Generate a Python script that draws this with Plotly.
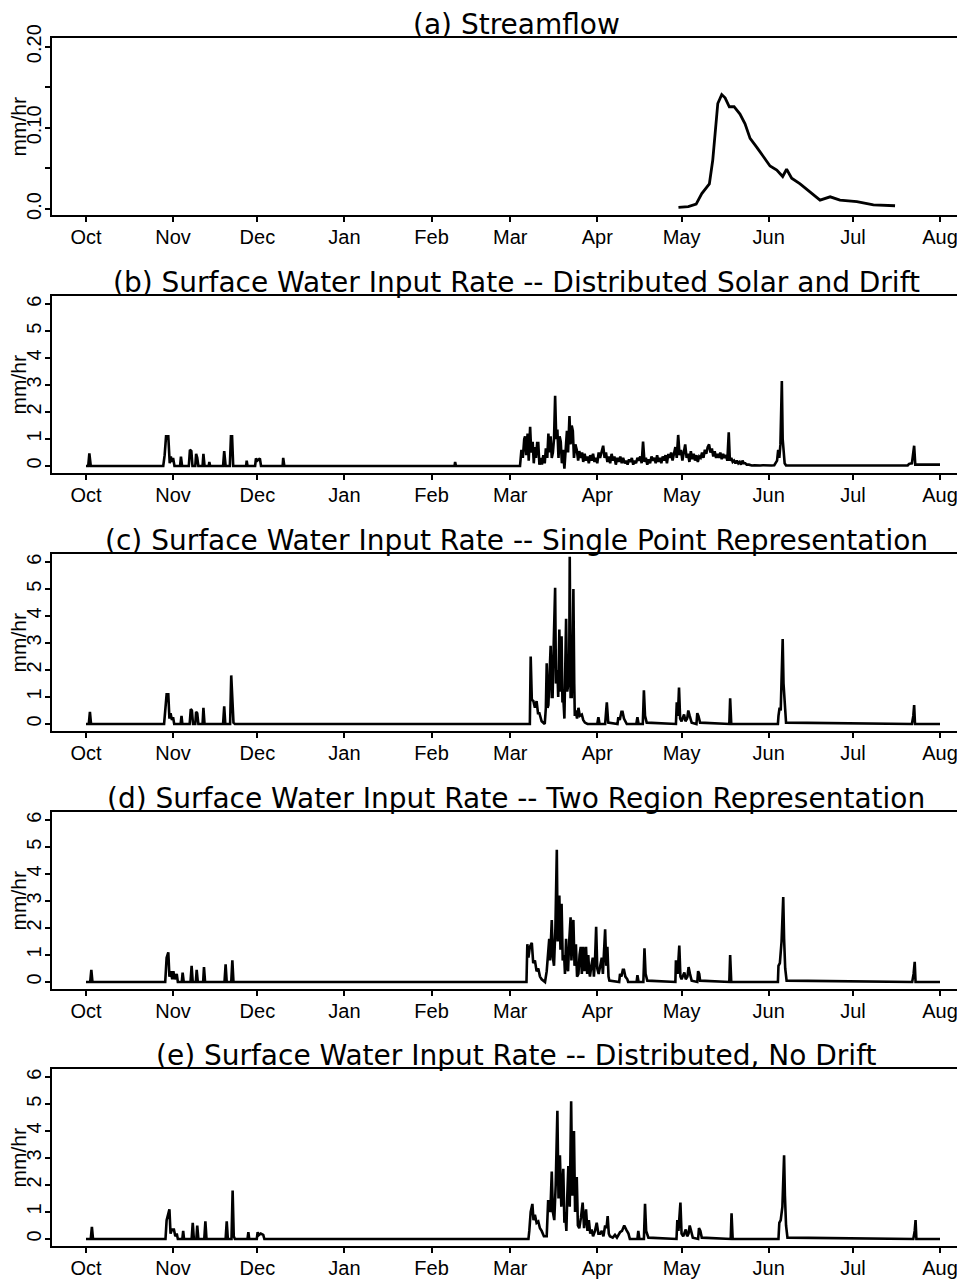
import plotly.graph_objects as go
import pandas as pd

# ---------------- data (day offsets from 1 Oct, values in mm/hr) ----------------
BASE = "1994-10-01"

month_ticks = ["1994-10-01", "1994-11-01", "1994-12-01", "1995-01-01", "1995-02-01",
               "1995-03-01", "1995-04-01", "1995-05-01", "1995-06-01", "1995-07-01",
               "1995-08-01"]
month_labels = ["Oct", "Nov", "Dec", "Jan", "Feb", "Mar", "Apr", "May", "Jun", "Jul", "Aug"]

panel_titles = [
    "(a) Streamflow",
    "(b) Surface Water Input Rate -- Distributed Solar and Drift",
    "(c) Surface Water Input Rate -- Single Point Representation",
    "(d) Surface Water Input Rate -- Two Region Representation",
    "(e) Surface Water Input Rate -- Distributed, No Drift",
]

# (a) streamflow
a_days = [210.9, 214.4, 217.2, 219.2, 221.9, 223.1, 224.9, 226.3, 227.5, 229.0, 230.7,
          232.8, 234.6, 236.4, 238.8, 241.1, 243.5, 245.9, 248.0, 249.4, 251.2, 254.2,
          257.1, 259.5, 261.3, 264.9, 268.4, 274.4, 280.3, 288.0]
a_vals = [0.002, 0.003, 0.006, 0.019, 0.031, 0.060, 0.130, 0.141, 0.137, 0.126, 0.126,
          0.117, 0.105, 0.087, 0.076, 0.064, 0.053, 0.048, 0.040, 0.049, 0.038, 0.031,
          0.023, 0.017, 0.011, 0.015, 0.011, 0.009, 0.005, 0.004]

# (b) distributed solar and drift
b_days = [0, 0.8, 1.2, 1.7, 27.5, 28.0, 28.5, 29.3, 29.8, 30.2, 30.6, 31.0, 31.5, 33.5, 33.8,
          34.2, 36.6, 37.0, 37.5, 37.9, 38.9, 39.2, 39.6, 40.0, 41.5, 41.8, 42.2, 43.7, 43.9,
          44.2, 48.8, 49.2, 49.7, 51.2, 51.6, 52.0, 52.4, 57.0, 57.2, 57.5, 60.2, 60.5, 61.0,
          61.9, 62.3, 70.0, 70.2, 70.6, 131.2, 131.4, 131.7, 154.5,
          155.0, 155.5, 156.0, 156.3, 156.7, 157.2, 157.6, 158.1, 158.5, 159.0, 159.4, 159.8,
          160.2, 160.6, 161.0, 161.4, 161.9, 162.3, 162.8, 163.3, 163.7, 164.2, 164.6, 165.0,
          165.4, 165.8, 166.2, 166.6, 167.0, 167.4, 167.8, 168.2, 168.6, 169.0, 169.4, 169.8,
          170.3, 170.7, 171.2, 171.6, 172.1, 172.5, 172.9, 173.3, 173.7, 174.2, 174.7, 175.2,
          175.6, 176.1, 176.6, 177.0, 177.5, 178.0, 178.5, 179.0, 179.5, 180.0, 180.5, 181.0,
          181.5, 182.0, 182.5, 183.0, 183.6, 184.1, 184.6, 185.1, 185.6, 186.1, 186.6, 187.1,
          187.6, 188.1, 188.6, 189.1, 189.6, 190.2, 190.7, 191.2, 191.8, 192.3, 192.8, 193.3,
          193.8, 194.3, 194.8, 195.3, 195.8, 196.3, 196.8, 197.3, 197.8, 198.3, 198.8, 199.3,
          199.8, 200.3, 200.8, 201.3, 201.8, 202.3, 202.8, 203.3, 203.8, 204.3, 204.8, 205.3,
          205.8, 206.3, 206.8, 207.3, 207.8, 208.3, 208.8, 209.3, 209.8, 210.3, 210.8, 211.3,
          211.8, 212.3, 212.8, 213.3, 213.8, 214.3, 214.8, 215.3, 215.8, 216.3, 216.8, 217.3,
          217.8, 218.3, 218.8, 219.3, 219.8, 220.3, 220.8, 221.3, 221.8, 222.3, 222.8, 223.3,
          223.8, 224.3, 224.8, 225.3, 225.8, 226.3, 226.8, 227.3, 227.8, 228.3, 228.8, 229.2,
          229.7, 230.2, 230.7, 231.2, 231.7, 232.2, 232.7, 233.2, 233.7, 234.2, 234.7, 235.2,
          236.0, 237.0, 238.0, 239.0, 240.0, 241.0, 242.0, 243.0, 244.0, 245.0, 245.5, 246.0,
          246.4, 246.8, 247.2, 247.7, 248.0, 248.3, 248.7, 249.2, 292.5, 293.0, 294.0, 294.8,
          295.2, 304.0]
b_vals = [0, 0, 0.47, 0, 0, 0.4, 1.1, 1.1, 0.1, 0.35, 0.15, 0.3, 0, 0, 0.35,
          0, 0, 0.6, 0.55, 0, 0, 0.45, 0.3, 0, 0, 0.45, 0, 0, 0.15,
          0, 0, 0.55, 0, 0, 1.1, 1.1, 0, 0, 0.2, 0, 0, 0.28, 0.2,
          0.28, 0, 0, 0.3, 0, 0, 0.15, 0, 0.0,
          0.6, 0.3, 1.0, 1.1, 0.4, 1.2, 0.2, 1.45, 0.5, 0.9, 0.1, 0.7,
          0.3, 0.85, 0.85, 0.05, 0.3, 0.05, 0.4, 0.1, 0.65, 0.3, 1.2, 0.5,
          1.1, 0.3, 0.5, 1.0, 2.6, 1.0, 1.35, 0.3, 1.1, 0.9, 0.1, 0.6,
          -0.1, 0.7, 1.3, 0.5, 1.85, 0.8, 1.5, 1.3, 0.3, 0.8, 0.6, 0.2,
          0.55, 0.3, 0.5, 0.15, 0.45, 0.2, 0.35, 0.1, 0.4, 0.2, 0.45, 0.15,
          0.3, 0.1, 0.5, 0.3, 0.6, 0.75, 0.3, 0.5, 0.15, 0.35, 0.1, 0.45,
          0.2, 0.35, 0.05, 0.3, 0.15, 0.35, 0.1, 0.3, 0.1, 0.2, 0.05, 0.25,
          0.15, 0.3, 0.05, 0.2, 0.1, 0.3, 0.2, 0.35, 0.1, 0.9, 0.15, 0.3,
          0.05, 0.25, 0.1, 0.35, 0.2, 0.3, 0.1, 0.4, 0.15, 0.3, 0.1, 0.35,
          0.2, 0.4, 0.1, 0.45, 0.3, 0.5, 0.2, 0.45, 0.7, 0.3, 1.15, 0.4,
          0.6, 0.2, 0.5, 0.8, 0.3, 0.45, 0.15, 0.55, 0.25, 0.45, 0.2, 0.4,
          0.15, 0.35, 0.3, 0.5, 0.3, 0.6, 0.45, 0.7, 0.8, 0.5, 0.65, 0.35,
          0.55, 0.3, 0.45, 0.3, 0.5, 0.25, 0.45, 0.3, 0.4, 0.2, 1.25, 0.2,
          0.3, 0.15, 0.2, 0.1, 0.2, 0.1, 0.15, 0.05, 0.2, 0.1, 0.1, 0.05,
          0.05, 0.02, 0.03, 0.02, 0.02, 0.03, 0.02, 0.03, 0.02, 0.03, 0.1, 0.2,
          0.6, 0.3, 0.8, 3.15, 1.0, 0.6, 0.1, 0.02, 0.02, 0.08, 0.1, 0.75,
          0.05, 0.05]

# (c) single point representation
c_days = [0, 1.0, 1.4, 1.8, 27.8, 28.3, 28.7, 29.3, 29.7, 30.1, 30.6, 31.0, 31.4, 33.7, 34.0,
          34.3, 36.9, 37.3, 37.7, 38.1, 38.9, 39.2, 39.6, 40.0, 41.5, 41.8, 42.2, 48.8, 49.2,
          49.6, 51.3, 51.7, 52.1, 52.5, 53.0, 158.0, 158.3, 158.7, 159.25, 159.8, 160.4, 160.9,
          161.4, 162.2, 163.3, 163.7, 164.0, 164.3, 164.6, 165.0, 165.4, 165.8, 166.1, 166.5,
          167.0, 167.3, 167.8, 168.1, 168.5, 168.8, 169.3, 169.6, 169.9, 170.3, 170.6, 170.9,
          171.3, 171.7, 172.0, 172.2, 172.5, 172.9, 173.2, 173.5, 173.8, 174.0, 174.3, 174.8,
          175.3, 175.8, 176.5, 177.0, 177.6, 178.5, 182.0, 182.4, 182.8, 184.8, 185.1, 185.4,
          185.9, 189.2, 189.5, 190.0, 190.6, 191.0, 191.5, 192.5, 195.9, 196.3, 196.7, 198.2,
          198.4, 198.6, 199.0, 199.6, 210.0, 210.3, 210.7, 211.1, 211.5, 212.0, 212.9, 213.4,
          214.0, 214.4, 214.9, 215.6, 217.3, 217.6, 218.0, 218.6, 229.0, 229.3, 229.7, 246.3,
          246.5, 246.9, 247.3, 247.7, 248.0, 248.3, 248.7, 249.2, 294.0, 294.5, 294.8, 295.1,
          304.0]
c_vals = [0, 0, 0.45, 0, 0, 0.6, 1.1, 1.1, 0.2, 0.4, 0.15, 0.25, 0, 0, 0.3,
          0, 0, 0.55, 0.5, 0, 0, 0.45, 0.4, 0, 0, 0.6, 0, 0, 0.65,
          0, 0, 1.8, 0.9, 0.05, 0, 0, 2.5, 0.9, 0.85, 0.6, 0.85, 0.4,
          0.4, 0.1, 0.0, 0.6, 2.25, 0.6, 0.7, 1.8, 2.9, 1.0, 1.0, 3.0,
          5.05, 1.5, 2.0, 1.0, 3.5, 1.2, 3.25, 0.8, 1.0, 0.2, 1.8, 3.9,
          1.2, 1.5, 2.0, 6.2, 1.0, 1.0, 2.5, 5.0, 1.5, 0.3, 0.5, 0.2,
          0.6, 0.3, 0.35, 0.15, 0.05, 0, 0, 0.25, 0, 0, 0.4, 0.8,
          0.05, 0, 0.25, 0.15, 0.45, 0.45, 0.2, 0, 0, 0.25, 0, 0,
          0.6, 1.25, 0.3, 0.05, 0, 0.8, 0.3, 1.35, 0.2, 0.1, 0.35, 0.1,
          0.2, 0.5, 0.3, 0.05, 0, 0.4, 0.3, 0.05, 0, 0.95, 0, 0,
          0.3, 0.6, 0.5, 1.8, 3.15, 1.5, 0.6, 0.05, 0, 0.3, 0.7, 0,
          0]

# (d) two region representation
d_days = [0, 1.5, 1.9, 2.3, 28.2, 28.7, 29.3, 29.7, 30.2, 30.7, 31.1, 31.6, 32.3, 32.7, 34.1,
          34.4, 34.8, 37.2, 37.6, 38.0, 39.1, 39.4, 39.8, 41.7, 42.0, 42.4, 49.3, 49.7, 50.1,
          51.7, 52.1, 52.5, 156.8, 157.1, 157.5, 158.0, 158.7, 159.2, 159.8, 160.4, 161.0,
          161.6, 162.2, 163.4, 164.0, 164.5, 164.9, 165.2, 165.8, 166.2, 166.6, 167.1, 167.6,
          167.9, 168.5, 168.9, 169.3, 169.7, 170.2, 170.5, 170.9, 171.2, 171.6, 172.0, 172.5,
          172.8, 173.5, 173.9, 174.4, 174.8, 175.3, 175.7, 176.1, 176.5, 177.0, 177.4, 178.0,
          178.4, 178.8, 179.1, 179.4, 179.9, 180.4, 180.8, 181.2, 181.6, 182.0, 182.5, 183.0,
          183.6, 184.0, 184.4, 184.8, 185.2, 185.6, 186.0, 186.3, 189.8, 190.1, 190.6, 191.1,
          191.5, 192.0, 192.7, 193.0, 196.0, 196.3, 196.7, 198.4, 198.6, 198.8, 199.2, 199.8,
          209.8, 210.0, 210.6, 211.2, 211.6, 212.0, 213.0, 213.5, 214.1, 214.5, 215.0, 215.6,
          217.6, 217.9, 218.3, 218.6, 229.0, 229.3, 229.7, 246.3, 246.5, 247.0, 247.6, 248.2,
          248.5, 248.9, 249.4, 294.1, 294.6, 295.0, 295.3, 304.0]
d_vals = [0, 0, 0.45, 0, 0, 0.9, 1.1, 0.2, 0.4, 0.1, 0.4, 0.1, 0.3, 0, 0,
          0.35, 0, 0, 0.6, 0, 0, 0.45, 0, 0, 0.55, 0, 0, 0.65, 0,
          0, 0.8, 0, 0, 1.4, 0.9, 1.3, 1.45, 0.7, 0.8, 0.4, 0.5,
          0.2, 0.1, 0, 0.4, 1.2, 1.6, 0.8, 2.3, 0.9, 0.6, 2.0, 4.9,
          1.5, 3.2, 1.2, 2.9, 0.8, 1.0, 0.3, 1.6, 0.6, 0.4, 1.5, 2.4,
          0.8, 2.3, 0.6, 1.4, 0.2, 0.3, 1.0, 1.3, 0.3, 1.3, 0.4, 1.3,
          0.3, 1.0, 0.4, 0.2, 0.6, 0.9, 0.2, 0.8, 2.05, 0.5, 0.3, 0.6,
          0.9, 0.3, 1.2, 1.95, 0.6, 1.3, 0.2, 0.05, 0, 0.3, 0.2, 0.45,
          0.45, 0.2, 0.1, 0, 0, 0.25, 0, 0, 0.6, 1.25, 0.3, 0.05,
          0, 0.8, 0.3, 1.35, 0.2, 0.1, 0.35, 0.1, 0.2, 0.55, 0.3, 0.05,
          0, 0.4, 0.3, 0.05, 0, 1.0, 0, 0, 0.6, 0.7, 1.5, 3.15,
          1.6, 0.5, 0.05, 0, 0.3, 0.75, 0, 0]

# (e) distributed, no drift
e_days = [0, 1.7, 2.1, 2.5, 28.3, 28.7, 29.7, 30.1, 30.6, 31.3, 31.8, 32.3, 32.7, 34.3, 34.6,
          34.9, 37.6, 38.0, 38.4, 39.3, 39.6, 40.0, 42.1, 42.5, 42.9, 49.7, 50.1, 50.5, 51.8,
          52.2, 52.6, 53.0, 57.5, 57.8, 58.1, 60.8, 61.1, 61.6, 62.2, 63.1, 63.5, 157.5, 157.8,
          158.3, 158.9, 159.3, 159.8, 160.4, 161.0, 161.6, 162.2, 163.0, 164.0, 164.5, 164.9,
          165.3, 165.8, 166.2, 166.7, 167.2, 167.8, 168.2, 168.7, 169.2, 169.9, 170.3, 170.6,
          171.0, 171.3, 171.7, 172.2, 172.7, 173.1, 173.7, 174.1, 174.7, 175.1, 175.6, 176.2,
          176.8, 177.3, 178.0, 178.5, 179.0, 179.5, 180.0, 180.5, 181.2, 181.8, 182.4, 183.0,
          183.6, 184.2, 184.8, 185.3, 185.7, 186.1, 186.5, 187.5, 188.3, 189.0, 190.1, 190.8,
          191.6, 192.3, 193.1, 193.6, 196.3, 196.6, 197.0, 198.6, 198.8, 199.0, 199.4, 200.2,
          210.2, 210.5, 210.9, 211.6, 212.0, 212.6, 213.5, 214.0, 214.5, 214.9, 215.4, 216.0,
          217.9, 218.2, 218.7, 219.2, 229.5, 229.8, 230.2, 246.5, 246.8, 247.3, 247.9, 248.5,
          248.8, 249.2, 249.7, 294.5, 295.0, 295.3, 295.6, 304.0]
e_vals = [0, 0, 0.45, 0, 0, 0.7, 1.1, 0.2, 0.35, 0.35, 0.1, 0.2, 0, 0, 0.3,
          0, 0, 0.6, 0, 0, 0.5, 0, 0, 0.65, 0, 0, 0.65, 0, 0,
          1.8, 0.1, 0, 0, 0.25, 0, 0, 0.25, 0.15, 0.2, 0.15, 0, 0, 0.3,
          1.0, 1.3, 0.7, 0.9, 0.6, 0.65, 0.4, 0.3, 0.1, 0.1, 1.4, 1.4,
          1.0, 2.5, 1.0, 0.7, 2.0, 4.75, 1.5, 3.1, 1.2, 2.6, 0.6, 1.0,
          0.3, 1.5, 2.7, 1.2, 5.1, 1.6, 4.0, 1.0, 2.3, 0.5, 0.4, 0.8,
          1.35, 0.4, 1.1, 0.3, 0.7, 0.2, 0.35, 0.1, 0.3, 0.6, 0.2, 0.2,
          0.3, 0.1, 0.5, 0.4, 0.85, 0.2, 0.1, 0.05, 0.15, 0.05, 0.25, 0.3,
          0.5, 0.35, 0.2, 0, 0, 0.3, 0, 0, 0.6, 1.3, 0.3, 0.05,
          0, 0.7, 0.3, 1.35, 0.2, 0.1, 0.35, 0.1, 0.2, 0.5, 0.3, 0.05,
          0, 0.4, 0.3, 0.05, 0, 0.95, 0, 0, 0.6, 0.7, 1.2, 3.1,
          1.6, 0.5, 0.05, 0, 0.3, 0.7, 0, 0]

series_days = [a_days, b_days, c_days, d_days, e_days]
series_vals = [a_vals, b_vals, c_vals, d_vals, e_vals]

a_ticks = [0, 0.05, 0.10, 0.15, 0.20]
a_ticklabels = ["0.0", "", "0.10", "", "0.20"]
swi_ticks = [0, 1, 2, 3, 4, 5, 6]
swi_ticklabels = ["0", "1", "2", "3", "4", "5", "6"]

# ---------------- layout geometry (page pixels; page has an 8px body margin) ----------------
OFF = 8
W, H = 965 - OFF, 1281 - OFF
ML, MR = 52 - OFF, 0
PW = W - ML - MR
frame_tops = [t - OFF for t in [38, 296, 554, 812, 1069]]
frame_h = 177

base = pd.Timestamp(BASE)
x_range = [base + pd.Timedelta(days=-12.1), base + pd.Timedelta(days=312.9)]

TICK_FONT = "Liberation Sans, Arial, sans-serif"
TITLE_FONT = "DejaVu Sans, sans-serif"

fig = go.Figure()
layout = dict(
    template="none",
    width=W, height=H,
    margin=dict(l=ML, r=MR, t=0, b=0, pad=0, autoexpand=False),
    paper_bgcolor="white", plot_bgcolor="white",
    showlegend=False,
    annotations=[],
)

for i in range(5):
    k = "" if i == 0 else str(i + 1)
    top = frame_tops[i]
    bot = top + frame_h
    ydom = [1 - bot / H, 1 - top / H]
    if i == 0:
        yr = [-0.0074, 0.2107]
        tv, tt = a_ticks, a_ticklabels
    else:
        yr = [-0.26, 6.30]
        tv, tt = swi_ticks, swi_ticklabels

    xdates = base + pd.to_timedelta(series_days[i], unit="D")
    fig.add_trace(go.Scatter(
        x=xdates, y=series_vals[i], mode="lines",
        line=dict(color="black", width=2.8 if i == 0 else 2.6),
        xaxis="x" + k, yaxis="y" + k, hoverinfo="skip",
    ))

    layout["xaxis" + k] = dict(
        type="date", range=x_range, domain=[0, 1], anchor="y" + k,
        tickmode="array", tickvals=month_ticks, ticktext=month_labels,
        ticks="outside", ticklen=5, tickwidth=1.5, tickcolor="black",
        showline=True, linecolor="black", linewidth=2, mirror=True,
        showgrid=False, zeroline=False, ticklabelstandoff=-2, automargin=False,
        tickfont=dict(family=TICK_FONT, size=20, color="black"),
    )
    layout["yaxis" + k] = dict(
        range=yr, domain=ydom, anchor="x" + k,
        tickmode="array", tickvals=tv, ticktext=tt, tickangle=-90,
        ticks="outside", ticklen=5, tickwidth=1.5, tickcolor="black",
        showline=True, linecolor="black", linewidth=2, mirror=False,
        showgrid=False, zeroline=False, ticklabelstandoff=-4, automargin=False,
        tickfont=dict(family=TICK_FONT, size=20, color="black"),
    )
    # panel title
    layout["annotations"].append(dict(
        text=panel_titles[i], xref="paper", yref="paper",
        x=(516 - OFF - ML) / PW, y=1 - top / H, xanchor="center", yanchor="bottom",
        yshift=-5, showarrow=False,
        font=dict(family=TITLE_FONT, size=28, color="black"),
    ))
    # y axis title
    layout["annotations"].append(dict(
        text="mm/hr", xref="paper", yref="paper",
        x=(18 - OFF - ML) / PW, y=1 - (top + frame_h / 2) / H,
        xanchor="center", yanchor="middle", textangle=-90, showarrow=False,
        font=dict(family=TICK_FONT, size=21, color="black"),
    ))

fig.update_layout(**layout)
fig.write_html("out.html")
